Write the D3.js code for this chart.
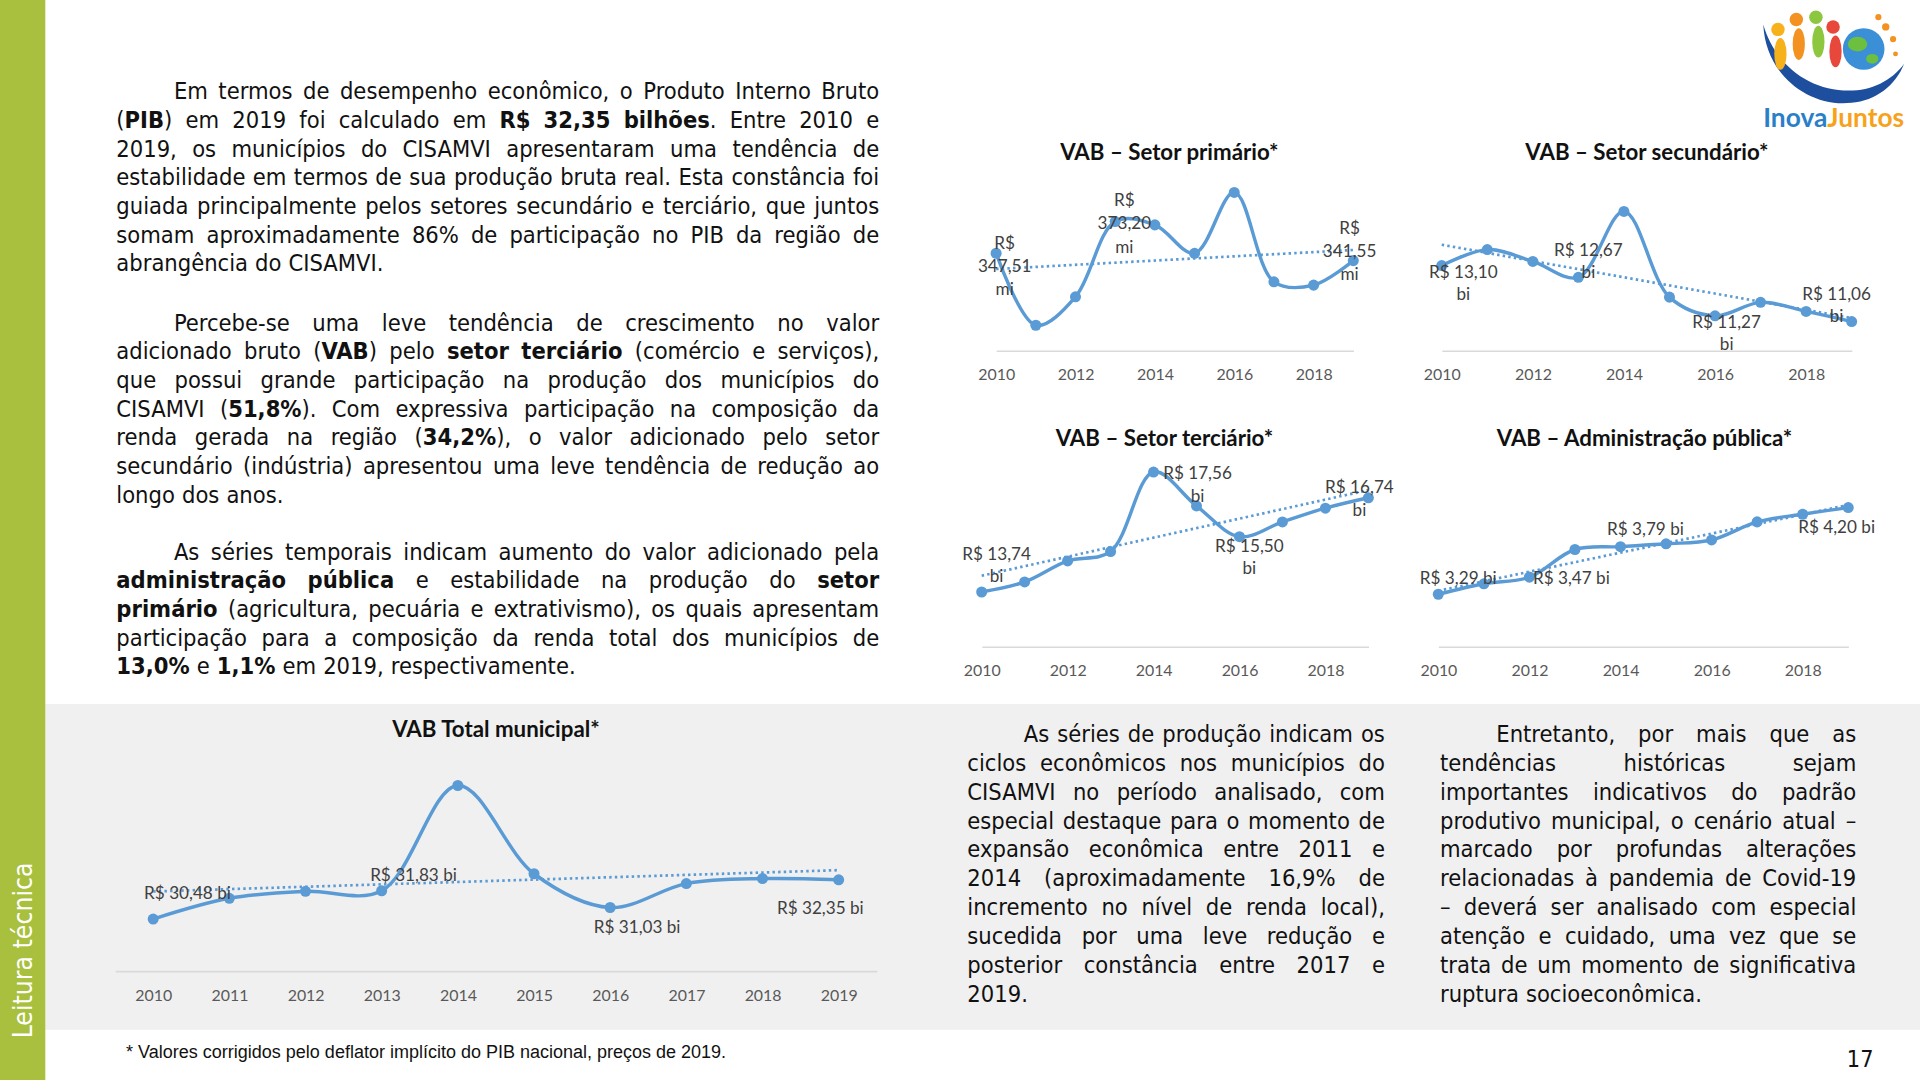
<!DOCTYPE html>
<html>
<head>
<meta charset="utf-8">
<script src="https://cdn.jsdelivr.net/npm/d3@7"></script>
<style>
  html, body { margin: 0; padding: 0; background: #fff; overflow: hidden; }
  svg { display: block; }
</style>
</head>
<body>
<script>
// ---- data ----
const years = [2010, 2011, 2012, 2013, 2014, 2015, 2016, 2017, 2018, 2019];
const evenYears = [2010, 2012, 2014, 2016, 2018];

// VAB values: primário in R$ mi, others in R$ bi
const vabPrimario   = [347.51, 289.2, 312.2, 373.20, 370.5, 347.5, 396.8, 324.4, 321.7, 341.55];
const vabSecundario = [13.10, 13.68, 13.25, 12.67, 15.07, 11.95, 11.27, 11.76, 11.43, 11.06];
const vabTerciario  = [13.74, 14.06, 14.73, 15.03, 17.56, 16.48, 15.50, 15.97, 16.41, 16.74];
const vabAdmPublica = [3.29, 3.40, 3.47, 3.76, 3.79, 3.82, 3.86, 4.05, 4.13, 4.20];
const vabTotal      = [30.48, 31.47, 31.80, 31.83, 36.85, 32.64, 31.03, 32.17, 32.41, 32.35];

// years that carry a data label in each chart
const labelsPrimario   = [2010, 2013, 2019];
const labelsSecundario = [2010, 2013, 2016, 2019];
const labelsTerciario  = [2010, 2014, 2016, 2019];
const labelsAdmPublica = [2010, 2012, 2014, 2019];
const labelsTotal      = [2010, 2013, 2016, 2019];

const paragraph1 = [
  "Em termos de desempenho econômico, o Produto Interno Bruto",
  "(**PIB**) em 2019 foi calculado em **R$ 32,35 bilhões**. Entre 2010 e",
  "2019, os municípios do CISAMVI apresentaram uma tendência de",
  "estabilidade em termos de sua produção bruta real. Esta constância foi",
  "guiada principalmente pelos setores secundário e terciário, que juntos",
  "somam aproximadamente 86% de participação no PIB da região de",
  "abrangência do CISAMVI."
];
const paragraph2 = [
  "Percebe-se uma leve tendência de crescimento no valor",
  "adicionado bruto (**VAB**) pelo **setor terciário** (comércio e serviços),",
  "que possui grande participação na produção dos municípios do",
  "CISAMVI (**51,8%**). Com expressiva participação na composição da",
  "renda gerada na região (**34,2%**), o valor adicionado pelo setor",
  "secundário (indústria) apresentou uma leve tendência de redução ao",
  "longo dos anos."
];
const paragraph3 = [
  "As séries temporais indicam aumento do valor adicionado pela",
  "**administração pública** e estabilidade na produção do **setor**",
  "**primário** (agricultura, pecuária e extrativismo), os quais apresentam",
  "participação para a composição da renda total dos municípios de",
  "**13,0%** e **1,1%** em 2019, respectivamente."
];
const paragraph4 = [
  "As séries de produção indicam os",
  "ciclos econômicos nos municípios do",
  "CISAMVI no período analisado, com",
  "especial destaque para o momento de",
  "expansão econômica entre 2011 e",
  "2014 (aproximadamente 16,9% de",
  "incremento no nível de renda local),",
  "sucedida por uma leve redução e",
  "posterior constância entre 2017 e",
  "2019."
];
const paragraph5 = [
  "Entretanto, por mais que as",
  "tendências históricas sejam",
  "importantes indicativos do padrão",
  "produtivo municipal, o cenário atual –",
  "marcado por profundas alterações",
  "relacionadas à pandemia de Covid-19",
  "– deverá ser analisado com especial",
  "atenção e cuidado, uma vez que se",
  "trata de um momento de significativa",
  "ruptura socioeconômica."
];

// ---- page setup (drawn in a 1568x882 frame scaled to 1920x1080) ----
const W = 1568, H = 882;
const BODY_FONT = "'DejaVu Sans Condensed', 'DejaVu Sans', sans-serif";
const CHART_FONT = "Lato, 'Open Sans', sans-serif";
const BLUE = "#5b9bd5";

const svg = d3.select("body").append("svg")
  .attr("width", 1920).attr("height", 1080)
  .attr("viewBox", `0 0 ${W} ${H}`);

svg.append("rect").attr("width", W).attr("height", H).attr("fill", "#fff");
svg.append("rect").attr("x", 37).attr("y", 575).attr("width", W - 37).attr("height", 266).attr("fill", "#f0f0f0");
svg.append("rect").attr("x", 0).attr("y", 0).attr("width", 37).attr("height", H).attr("fill", "#a8c03d");

svg.append("text")
  .attr("transform", "translate(26,848) rotate(-90)")
  .attr("font-family", BODY_FONT).attr("font-size", 21.5).attr("fill", "#fff")
  .text("Leitura técnica");

// ---- justified text ----
function parseWords(str) {
  let bold = false;
  return str.split(" ").map((w) => {
    const segs = [];
    w.split("**").forEach((p, i) => {
      if (i > 0) bold = !bold;
      if (p) segs.push({ t: p, b: bold });
    });
    return segs;
  });
}

function drawParagraph(lines, x0, x1, y0, step, indent, fontSize) {
  const g = svg.append("g")
    .attr("font-family", BODY_FONT).attr("font-size", fontSize).attr("fill", "#111");
  lines.forEach((line, li) => {
    const last = li === lines.length - 1;
    const left = li === 0 ? x0 + indent : x0;
    const text = g.append("text").attr("y", y0 + li * step);
    const words = parseWords(line);
    const els = words.map((segs) =>
      segs.map((s) => text.append("tspan").attr("font-weight", s.b ? "bold" : null).text(s.t)));
    const widths = els.map((ts) => d3.sum(ts, (t) => t.node().getComputedTextLength()));
    const total = d3.sum(widths);
    const space = fontSize * 0.3;
    let gap = space;
    let sx = 1;
    if (!last && words.length > 1) {
      gap = (x1 - left - total) / (words.length - 1);
      if (gap < fontSize * 0.2) {
        gap = fontSize * 0.2;
        sx = (x1 - left) / (total + gap * (words.length - 1));
      }
    }
    let x = left;
    els.forEach((ts, i) => { ts[0].attr("x", x); x += widths[i] + gap; });
    if (sx !== 1) text.attr("transform", `translate(${left},0) scale(${sx},1) translate(${-left},0)`);
  });
}

drawParagraph(paragraph1, 95, 718, 81, 23.45, 47, 19.2);
drawParagraph(paragraph2, 95, 718, 270, 23.45, 47, 19.2);
drawParagraph(paragraph3, 95, 718, 457, 23.45, 47, 19.2);
drawParagraph(paragraph4, 790, 1131, 606, 23.55, 46, 19.2);
drawParagraph(paragraph5, 1176, 1516, 606, 23.55, 46, 19.2);

// ---- charts ----
const fmtNum = (v) => d3.format(".2f")(v).replace(".", ",");

function labelLines(v, style) {
  const n = fmtNum(v);
  if (style === "mi3") return ["R$", n, "mi"];
  if (style === "bi2") return ["R$  " + n, "bi"];
  if (style === "bi1") return ["R$  " + n + " bi"];
  return ["R$ " + n + " bi"];
}

function drawLineChart(cfg) {
  const g = svg.append("g");
  const x = d3.scalePoint().domain(years).range(cfg.xRange).padding(cfg.pad);
  const y = d3.scaleLinear().domain(cfg.yDomain).range([cfg.axisY, cfg.axisY - cfg.plotH]);
  const data = years.map((yr, i) => ({ year: yr, value: cfg.values[i] }));

  g.append("text")
    .attr("x", cfg.titleX).attr("y", cfg.titleY)
    .attr("text-anchor", "middle")
    .attr("font-family", CHART_FONT).attr("font-weight", "bold").attr("font-size", 18.2)
    .attr("fill", "#111")
    .text(cfg.title);

  const ax = g.append("g")
    .attr("transform", `translate(0,${cfg.axisY})`)
    .call(d3.axisBottom(x).tickValues(cfg.ticks).tickSize(0).tickSizeOuter(0).tickPadding(15));
  ax.select(".domain").attr("stroke", "#d9d9d9").attr("stroke-width", 1.3);
  ax.selectAll("text")
    .attr("font-family", CHART_FONT).attr("font-size", 13).attr("fill", "#595959");

  // linear trendline (least squares, like the spreadsheet's)
  const reg = d3.mean(data, (d, i) => i);
  const mv = d3.mean(data, (d) => d.value);
  const slope = d3.sum(data, (d, i) => (i - reg) * (d.value - mv)) / d3.sum(data, (d, i) => (i - reg) ** 2);
  const trend = [0, data.length - 1].map((i) => ({ year: years[i], value: mv + slope * (i - reg) }));
  g.append("path")
    .datum(trend)
    .attr("fill", "none").attr("stroke", BLUE).attr("stroke-width", 2.2)
    .attr("stroke-dasharray", "2,2.6")
    .attr("d", d3.line().x((d) => x(d.year)).y((d) => y(d.value)));

  g.append("path")
    .datum(data)
    .attr("fill", "none").attr("stroke", BLUE).attr("stroke-width", 2.8)
    .attr("stroke-linejoin", "round")
    .attr("d", d3.line().curve(d3.curveCatmullRom.alpha(0.5)).x((d) => x(d.year)).y((d) => y(d.value)));

  g.selectAll(".pt").data(data).enter().append("circle")
    .attr("class", "pt")
    .attr("cx", (d) => x(d.year)).attr("cy", (d) => y(d.value))
    .attr("r", 4.5).attr("fill", BLUE);

  const lab = g.append("g")
    .attr("font-family", CHART_FONT).attr("font-size", 14).attr("fill", "#404040")
    .style("white-space", "pre");
  cfg.labelYears.forEach((yr, k) => {
    const d = data.find((e) => e.year === yr);
    const off = cfg.offsets[k];
    const t = lab.append("text").attr("text-anchor", "middle");
    labelLines(d.value, cfg.labelStyle).forEach((s, li) => {
      t.append("tspan")
        .attr("x", x(d.year) + off[0])
        .attr("y", y(d.value) + off[1] + li * cfg.lineH)
        .text(s);
    });
  });
}

drawLineChart({
  title: "VAB – Setor primário*", titleX: 955, titleY: 131,
  values: vabPrimario, xRange: [813.5, 1105.2], pad: 0, ticks: evenYears,
  axisY: 286.4, plotH: 132.5, yDomain: [268.6, 400],
  labelYears: labelsPrimario, labelStyle: "mi3", lineH: 18.8,
  offsets: [[7, -3.4], [7.5, -12.3], [-3, -21.6]]
});

drawLineChart({
  title: "VAB – Setor secundário*", titleX: 1345, titleY: 131,
  values: vabSecundario, xRange: [1177.4, 1512.2], pad: 0, ticks: evenYears,
  axisY: 286.4, plotH: 134.6, yDomain: [10, 16],
  labelYears: labelsSecundario, labelStyle: "bi2", lineH: 18.2,
  offsets: [[17.6, 10.2], [8.2, -17.4], [9.5, 9.6], [-12.3, -17.8]]
});

drawLineChart({
  title: "VAB – Setor terciário*", titleX: 951, titleY: 364,
  values: vabTerciario, xRange: [801.7, 1117.5], pad: 0, ticks: evenYears,
  axisY: 528.1, plotH: 153.9, yDomain: [12, 18],
  labelYears: labelsTerciario, labelStyle: "bi2", lineH: 18.2,
  offsets: [[12.2, -26.5], [35.9, 6.1], [8.1, 12.4], [-7.3, -3.5]]
});

drawLineChart({
  title: "VAB – Administração pública*", titleX: 1343, titleY: 364,
  values: vabAdmPublica, xRange: [1174.6, 1509.4], pad: 0, ticks: evenYears,
  axisY: 528.1, plotH: 136.9, yDomain: [2.74, 4.5],
  labelYears: labelsAdmPublica, labelStyle: "bi1", lineH: 18,
  offsets: [[16.3, -8.1], [34.3, 5.5], [20.4, -9.7], [-9.5, 21.1]]
});

drawLineChart({
  title: "VAB Total municipal*", titleX: 405, titleY: 602,
  values: vabTotal, xRange: [94, 716], pad: 0.5, ticks: years,
  axisY: 793, plotH: 171.2, yDomain: [28, 38],
  labelYears: labelsTotal, labelStyle: "tot", lineH: 18,
  offsets: [[28, -16.3], [26, -8.3], [22, 20.7], [-15, 27.7]]
});

// ---- footer ----
svg.append("text")
  .attr("x", 103).attr("y", 864)
  .attr("font-family", "'Liberation Sans', Arial, sans-serif").attr("font-size", 14.7).attr("fill", "#111")
  .text("* Valores corrigidos pelo deflator implícito do PIB nacional, preços de 2019.");
svg.append("text")
  .attr("x", 1530).attr("y", 871).attr("text-anchor", "end")
  .attr("font-family", BODY_FONT).attr("font-size", 19).attr("fill", "#111")
  .text("17");

// ---- logo (approximation) ----
const logo = svg.append("g");
logo.append("path")
  .attr("d", "M1440,20 C1442,62 1478,88 1512,84 C1532,82 1548,70 1555,52 C1545,66 1528,74 1510,74 C1478,74 1450,54 1440,20 Z")
  .attr("fill", "#1d4f9e");
[[1452, 24, "#f7b21b"], [1467, 16, "#f39221"], [1483, 14, "#8dc63f"], [1497, 22, "#e8473b"]].forEach((p) => {
  logo.append("circle").attr("cx", p[0]).attr("cy", p[1]).attr("r", 5.5).attr("fill", p[2]);
  logo.append("ellipse").attr("cx", p[0] + 2).attr("cy", p[1] + 20).attr("rx", 5).attr("ry", 13).attr("fill", p[2]);
});
logo.append("circle").attr("cx", 1522).attr("cy", 40).attr("r", 17).attr("fill", "#3a8fd6");
logo.append("ellipse").attr("cx", 1517).attr("cy", 36).attr("rx", 8).attr("ry", 6).attr("fill", "#6cbf3f");
logo.append("ellipse").attr("cx", 1529).attr("cy", 48).attr("rx", 5).attr("ry", 4).attr("fill", "#6cbf3f");
[[1540, 22, 3], [1546, 32, 2.5], [1534, 14, 2.5], [1548, 44, 2]].forEach((p) => {
  logo.append("circle").attr("cx", p[0]).attr("cy", p[1]).attr("r", p[2]).attr("fill", "#f39221");
});
const lt = logo.append("text")
  .attr("x", 1440).attr("y", 104)
  .attr("font-family", CHART_FONT).attr("font-weight", "bold")
  .attr("font-size", 21.5).attr("textLength", 115).attr("lengthAdjust", "spacingAndGlyphs");
lt.append("tspan").attr("fill", "#2a7fc9").text("Inova");
lt.append("tspan").attr("fill", "#f7a21b").text("Juntos");
</script>
</body>
</html>
